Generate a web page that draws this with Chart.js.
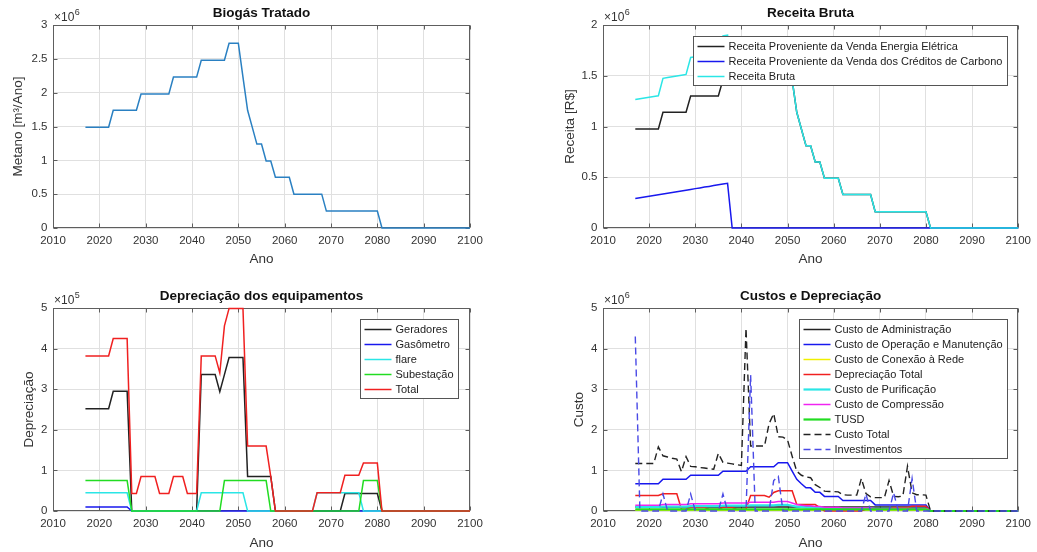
<!DOCTYPE html>
<html><head><meta charset="utf-8">
<script src="https://cdn.jsdelivr.net/npm/chart.js@4.4.1/dist/chart.umd.min.js"></script>
<style>
html,body{margin:0;padding:0;background:#fff;}
body{width:1037px;height:552px;position:relative;overflow:hidden;}
canvas{position:absolute;}
</style></head><body>
<canvas id="c1" width="518" height="276" style="left:0;top:0"></canvas>
<canvas id="c2" width="519" height="276" style="left:518px;top:0"></canvas>
<canvas id="c3" width="518" height="276" style="left:0;top:276px"></canvas>
<canvas id="c4" width="519" height="276" style="left:518px;top:276px"></canvas>
<script>
// ---------- DATA (values shown in the units of each axis: x10^6 or x10^5) ----------
const years = [2017,2018,2019,2020,2021,2022,2023,2024,2025,2026,2027,2028,2029,2030,2031,2032,2033,2034,2035,2036,
2037,2038,2039,2040,2041,2042,2043,2044,2045,2046,2047,2048,2049,2050,2051,2052,2053,2054,2055,2056,
2057,2058,2059,2060,2061,2062,2063,2064,2065,2066,2067,2068,2069,2070,2071,2072,2073,2074,2075,2076,
2077,2078,2079,2080,2081,2082,2083,2084,2085,2086,2087,2088,2089,2090,2091,2092,2093,2094,2095,2096,
2097,2098,2099,2100];

// Biogás Tratado (x10^6 m3/ano)
const biogas = [1.49,1.49,1.49,1.49,1.49,1.49,1.74,1.74,1.74,1.74,1.74,1.74,1.98,1.98,1.98,1.98,1.98,1.98,1.98,2.23,
2.23,2.23,2.23,2.23,2.23,2.48,2.48,2.48,2.48,2.48,2.48,2.73,2.73,2.73,2.23,1.74,1.49,1.24,1.24,0.99,
0.99,0.75,0.75,0.75,0.75,0.50,0.50,0.50,0.50,0.50,0.50,0.50,0.25,0.25,0.25,0.25,0.25,0.25,0.25,0.25,
0.25,0.25,0.25,0.25,0,0,0,0,0,0,0,0,0,0,0,0,0,0,0,0,
0,0,0,0];

// Receita Bruta (x10^6 R$)
const receitaEnergia = [0.975,0.975,0.975,0.975,0.975,0.975,1.14,1.14,1.14,1.14,1.14,1.14,1.30,1.30,1.30,1.30,1.30,1.30,1.30,1.46,
1.46,1.46,1.46,1.46,1.46,1.63,1.63,1.63,1.63,1.63,1.63,1.79,1.79,1.79,1.46,1.14,0.975,0.81,0.81,0.65,
0.65,0.49,0.49,0.49,0.49,0.33,0.33,0.33,0.33,0.33,0.33,0.33,0.16,0.16,0.16,0.16,0.16,0.16,0.16,0.16,
0.16,0.16,0.16,0.16,0,0,0,0,0,0,0,0,0,0,0,0,0,0,0,0,
0,0,0,0];
const receitaCarbono = [0.290,0.298,0.305,0.313,0.320,0.328,0.335,0.343,0.350,0.358,0.365,0.373,0.380,0.388,0.395,0.403,0.410,0.418,0.425,0.433,
0.440,0,0,0,0,0,0,0,0,0,0,0,0,0,0,0,0,0,0,0,
0,0,0,0,0,0,0,0,0,0,0,0,0,0,0,0,0,0,0,0,
0,0,0,0,0,0,0,0,0,0,0,0,0,0,0,0,0,0,0,0,
0,0,0,0];
const receitaBruta = [1.265,1.273,1.280,1.288,1.295,1.303,1.475,1.483,1.490,1.498,1.505,1.513,1.680,1.688,1.695,1.703,1.710,1.718,1.725,1.893,
1.900,1.46,1.46,1.46,1.46,1.63,1.63,1.63,1.63,1.63,1.63,1.79,1.79,1.79,1.46,1.14,0.975,0.81,0.81,0.65,
0.65,0.49,0.49,0.49,0.49,0.33,0.33,0.33,0.33,0.33,0.33,0.33,0.16,0.16,0.16,0.16,0.16,0.16,0.16,0.16,
0.16,0.16,0.16,0.16,0,0,0,0,0,0,0,0,0,0,0,0,0,0,0,0,
0,0,0,0];

// Depreciação dos equipamentos (x10^5)
const depGeradores = [2.52,2.52,2.52,2.52,2.52,2.52,2.95,2.95,2.95,2.95,0,0,0,0,0,0,0,0,0,0,
0,0,0,0,0,3.36,3.36,3.36,3.36,2.94,3.36,3.78,3.78,3.78,3.78,0.85,0.85,0.85,0.85,0.85,
0.85,0,0,0,0,0,0,0,0,0,0,0,0,0,0,0,0.43,0.43,0.43,0.43,
0.43,0.43,0.43,0.43,0,0,0,0,0,0,0,0,0,0,0,0,0,0,0,0,
0,0,0,0];
const depGasometro = [0.10,0.10,0.10,0.10,0.10,0.10,0.10,0.10,0.10,0.10,0,0,0,0,0,0,0,0,0,0,
0,0,0,0,0,0,0,0,0,0,0,0,0,0,0,0,0,0,0,0,
0,0,0,0,0,0,0,0,0,0,0,0,0,0,0,0,0,0,0,0,
0,0,0,0,0,0,0,0,0,0,0,0,0,0,0,0,0,0,0,0,
0,0,0,0];
const depFlare = [0.45,0.45,0.45,0.45,0.45,0.45,0.45,0.45,0.45,0.45,0,0,0,0,0,0,0,0,0,0,
0,0,0,0,0,0.45,0.45,0.45,0.45,0.45,0.45,0.45,0.45,0.45,0.45,0,0,0,0,0,
0,0,0,0,0,0,0,0,0,0,0.45,0.45,0.45,0.45,0.45,0.45,0.45,0.45,0.45,0.45,
0,0,0,0,0,0,0,0,0,0,0,0,0,0,0,0,0,0,0,0,
0,0,0,0];
const depSubestacao = [0.75,0.75,0.75,0.75,0.75,0.75,0.75,0.75,0.75,0.75,0,0,0,0,0,0,0,0,0,0,
0,0,0,0,0,0,0,0,0,0,0.75,0.75,0.75,0.75,0.75,0.75,0.75,0.75,0.75,0.75,
0,0,0,0,0,0,0,0,0,0,0,0,0,0,0,0,0,0,0,0,
0.75,0.75,0.75,0.75,0,0,0,0,0,0,0,0,0,0,0,0,0,0,0,0,
0,0,0,0];
const depTotal = [3.82,3.82,3.82,3.82,3.82,3.82,4.25,4.25,4.25,4.25,0.43,0.43,0.85,0.85,0.85,0.85,0.43,0.43,0.43,0.85,
0.85,0.85,0.43,0.43,0.43,3.82,3.82,3.82,3.82,3.40,4.56,4.99,4.99,4.99,4.99,1.60,1.60,1.60,1.60,1.60,
0.85,0,0,0,0,0,0,0,0,0,0.45,0.45,0.45,0.45,0.45,0.45,0.88,0.88,0.88,0.88,
1.18,1.18,1.18,1.18,0,0,0,0,0,0,0,0,0,0,0,0,0,0,0,0,
0,0,0,0];

// Custos e Depreciação (x10^6 R$)
const custoAdm = [0.10,0.10,0.10,0.10,0.10,0.10,0.10,0.10,0.10,0.10,0.10,0.10,0.10,0.10,0.10,0.10,0.10,0.10,0.10,0.10,
0.10,0.10,0.10,0.10,0.10,0.10,0.10,0.10,0.10,0.10,0.10,0.10,0.10,0.10,0.10,0.10,0.10,0.10,0.10,0.10,
0.10,0.10,0.10,0.10,0.10,0.10,0.10,0.10,0.10,0.10,0.10,0.10,0.10,0.10,0.10,0.10,0.10,0.10,0.10,0.10,
0.10,0.10,0.10,0.10,0,0,0,0,0,0,0,0,0,0,0,0,0,0,0,0,
0,0,0,0];
const custoOM = [0.67,0.67,0.67,0.67,0.67,0.67,0.78,0.78,0.78,0.78,0.78,0.78,0.88,0.88,0.88,0.88,0.88,0.88,0.88,0.98,
0.98,0.98,0.98,0.98,0.98,1.09,1.09,1.09,1.09,1.09,1.09,1.19,1.19,1.19,0.98,0.78,0.67,0.57,0.57,0.46,
0.46,0.36,0.36,0.36,0.36,0.26,0.26,0.26,0.26,0.26,0.26,0.26,0.15,0.15,0.15,0.15,0.15,0.15,0.15,0.15,
0.15,0.15,0.15,0.15,0,0,0,0,0,0,0,0,0,0,0,0,0,0,0,0,
0,0,0,0];
const custoConexao = [0.02,0.02,0.02,0.02,0.02,0.02,0.02,0.02,0.02,0.02,0.02,0.02,0.02,0.02,0.02,0.02,0.02,0.02,0.02,0.02,
0.02,0.02,0.02,0.02,0.02,0.02,0.02,0.02,0.02,0.02,0.02,0.02,0.02,0.02,0.02,0.02,0.02,0.02,0.02,0.02,
0.02,0.02,0.02,0.02,0.02,0.02,0.02,0.02,0.02,0.02,0.02,0.02,0.02,0.02,0.02,0.02,0.02,0.02,0.02,0.02,
0.02,0.02,0.02,0.02,0,0,0,0,0,0,0,0,0,0,0,0,0,0,0,0,
0,0,0,0];
const custoDepTotal = [0.382,0.382,0.382,0.382,0.382,0.382,0.425,0.425,0.425,0.425,0.043,0.043,0.085,0.085,0.085,0.085,0.043,0.043,0.043,0.085,
0.085,0.085,0.043,0.043,0.043,0.382,0.382,0.382,0.382,0.340,0.456,0.499,0.499,0.499,0.499,0.160,0.160,0.160,0.160,0.160,
0.085,0,0,0,0,0,0,0,0,0,0.045,0.045,0.045,0.045,0.045,0.045,0.088,0.088,0.088,0.088,
0.118,0.118,0.118,0.118,0,0,0,0,0,0,0,0,0,0,0,0,0,0,0,0,
0,0,0,0];
const custoPurificacao = [0.10,0.10,0.10,0.10,0.10,0.10,0.11,0.11,0.11,0.11,0.11,0.11,0.12,0.12,0.12,0.12,0.12,0.12,0.12,0.13,
0.13,0.13,0.13,0.13,0.13,0.14,0.14,0.14,0.14,0.14,0.14,0.15,0.15,0.15,0.13,0.11,0.10,0.09,0.09,0.08,
0.08,0.07,0.07,0.07,0.07,0.06,0.06,0.06,0.06,0.06,0.06,0.06,0.05,0.05,0.05,0.05,0.05,0.05,0.05,0.05,
0.05,0.05,0.05,0.05,0,0,0,0,0,0,0,0,0,0,0,0,0,0,0,0,
0,0,0,0];
const custoCompressao = [0.144,0.144,0.144,0.144,0.144,0.144,0.162,0.162,0.162,0.162,0.162,0.162,0.179,0.179,0.179,0.179,0.179,0.179,0.179,0.196,
0.196,0.196,0.196,0.196,0.196,0.214,0.214,0.214,0.214,0.214,0.214,0.231,0.231,0.231,0.196,0.162,0.144,0.127,0.127,0.109,
0.109,0.093,0.093,0.093,0.093,0.075,0.075,0.075,0.075,0.075,0.075,0.075,0.058,0.058,0.058,0.058,0.058,0.058,0.058,0.058,
0.058,0.058,0.058,0.058,0,0,0,0,0,0,0,0,0,0,0,0,0,0,0,0,
0,0,0,0];
const custoTUSD = [0.04,0.04,0.04,0.04,0.04,0.04,0.04,0.04,0.04,0.04,0.04,0.04,0.04,0.04,0.04,0.04,0.04,0.04,0.04,0.04,
0.04,0.04,0.04,0.04,0.04,0.04,0.04,0.04,0.04,0.04,0.04,0.04,0.04,0.04,0.04,0.04,0.04,0.04,0.04,0.04,
0.04,0.04,0.04,0.04,0.04,0.04,0.04,0.04,0.04,0.04,0.04,0.04,0.04,0.04,0.04,0.04,0.04,0.04,0.04,0.04,
0.04,0.04,0.04,0.04,0,0,0,0,0,0,0,0,0,0,0,0,0,0,0,0,
0,0,0,0];
const custoTotal = [1.17,1.17,1.17,1.17,1.17,1.58,1.36,1.33,1.30,1.28,0.97,1.34,1.10,1.09,1.07,1.06,1.04,1.03,1.42,1.20,
1.18,1.16,1.14,1.12,4.50,1.60,1.60,1.60,1.60,2.15,2.40,1.83,1.82,1.75,1.35,0.98,0.88,0.84,0.82,0.65,
0.58,0.49,0.48,0.48,0.47,0.40,0.39,0.39,0.39,0.80,0.43,0.35,0.33,0.33,0.33,0.75,0.36,0.35,0.37,1.10,
0.45,0.40,0.40,0.39,0,0,0,0,0,0,0,0,0,0,0,0,0,0,0,0,
0,0,0,0];
const investimentos = [4.30,0,0,0,0,0,0.42,0,0,0,0,0,0.42,0,0,0,0,0,0,0.42,
0,0,0,0,0,3.35,0,0,0,0,0.75,0.85,0,0,0,0,0,0,0,0,
0,0,0,0,0,0,0,0,0,0,0.42,0,0,0,0,0,0.45,0,0,0,
0.80,0,0,0,0,0,0,0,0,0,0,0,0,0,0,0,0,0,0,0,
0,0,0,0];

// ---------- STYLE ----------
const FONT = '"Liberation Sans", Arial, Helvetica, sans-serif';
const TICK = '#333333', GRID = '#e0e0e0', FRAME = '#5e5e5e';
const C = {k:'#222222', b:'#1818ee', c:'#2ae6e6', g:'#22dc22', r:'#f02020', m:'#f024f0', y:'#f0f000', mat:'#2a80c2', bd:'#4a4ae6'};
Chart.defaults.font.family = FONT;

function pts(arr){ return years.map((x,i)=>({x:x, y:arr[i]})); }
function ds(label, arr, color, width, dash){
  return {label, data: pts(arr), borderColor: color, backgroundColor: color, borderWidth: width||1.5,
          borderDash: dash||[], pointRadius: 0, tension: 0, fill: false, clip: false};
}

function matlabLook(cfg){
  return {
    id: 'matlabLook',
    beforeDatasetsDraw(chart){
      const {ctx, chartArea:a, scales} = chart;
      ctx.save();
      ctx.strokeStyle = FRAME; ctx.lineWidth = 1; ctx.setLineDash([]);
      const l = Math.round(a.left)+0.5, r = Math.round(a.right)-0.5, t = Math.round(a.top)+0.5, b = Math.round(a.bottom)-0.5;
      ctx.strokeRect(l, t, r-l, b-t);
      ctx.beginPath();
      scales.x.ticks.forEach(tk=>{ const p = Math.round(scales.x.getPixelForValue(tk.value))+0.5;
        ctx.moveTo(p,b); ctx.lineTo(p,b-4); ctx.moveTo(p,t); ctx.lineTo(p,t+4); });
      scales.y.ticks.forEach(tk=>{ const p = Math.round(scales.y.getPixelForValue(tk.value))+0.5;
        ctx.moveTo(l,p); ctx.lineTo(l+4,p); ctx.moveTo(r,p); ctx.lineTo(r-4,p); });
      ctx.stroke();
      ctx.restore();
    },
    afterDatasetsDraw(chart){
      const {ctx, chartArea:a} = chart;
      ctx.save();
      // exponent label
      ctx.fillStyle = TICK; ctx.textAlign = 'left'; ctx.textBaseline = 'middle';
      ctx.font = '12px ' + FONT;
      const ex = a.left + 1, ey = a.top - 7;
      ctx.fillText('\u00d710', ex, ey);
      const w1 = ctx.measureText('\u00d710').width;
      ctx.font = '9px ' + FONT;
      ctx.fillText(cfg.exp, ex + w1 + 0.5, ey - 5.5);
      // legend
      if (cfg.legend){
        const items = chart.data.datasets;
        ctx.font = '11px ' + FONT;
        const tw = Math.max(...items.map(d=>ctx.measureText(d.label).width));
        const w = Math.round(35 + tw + 5), h = items.length*15 + 4;
        const x0 = Math.round(a.right - cfg.legend.right - w)+0.5, y0 = Math.round(a.top + cfg.legend.top)+0.5;
        ctx.fillStyle = '#ffffff'; ctx.fillRect(x0, y0, w, h);
        ctx.strokeStyle = '#555555'; ctx.lineWidth = 1; ctx.setLineDash([]); ctx.strokeRect(x0, y0, w, h);
        items.forEach((d,i)=>{
          const yy = y0 + 10 + i*15;
          ctx.beginPath(); ctx.setLineDash(d.borderDash||[]);
          ctx.strokeStyle = d.borderColor; ctx.lineWidth = d.borderWidth;
          ctx.moveTo(x0+4, yy); ctx.lineTo(x0+31, yy); ctx.stroke();
          ctx.setLineDash([]);
          ctx.fillStyle = '#222222'; ctx.textAlign = 'left'; ctx.textBaseline = 'middle';
          ctx.fillText(d.label, x0+35, yy);
        });
      }
      ctx.restore();
    }
  };
}

function makeChart(id, geo, datasets, yMax, yStep, yTitle, title, cfg){
  datasets.forEach((d,i)=>{ d.order = datasets.length - i; });
  return new Chart(document.getElementById(id), {
    type: 'line',
    data: { datasets },
    options: {
      responsive: false, animation: false, devicePixelRatio: 1,
      layout: { padding: { left: 0, top: 0, bottom: 0, right: geo.cx + geo.cw - geo.R } },
      plugins: {
        legend: { display: false }, tooltip: { enabled: false },
        title: { display: true, text: title, fullSize: false, color: '#111111',
                 font: { size: 13.5, weight: 'bold', family: FONT },
                 padding: { top: geo.titleY - geo.cy - 8.1, bottom: geo.T - geo.titleY - 8.1 } }
      },
      scales: {
        x: { type: 'linear', min: 2010, max: 2100,
             ticks: { stepSize: 10, padding: 6, color: TICK, font: { size: 11.5 }, maxRotation: 0, autoSkip: false,
                      callback: v => String(v) },
             grid: { color: GRID, drawTicks: false }, border: { display: false },
             title: { display: true, text: 'Ano', color: TICK, font: { size: 13.5 },
                      padding: { top: 0, bottom: geo.cy + geo.ch - geo.xTitleY - 8.1 } },
             afterFit: s => { s.height = geo.cy + geo.ch - geo.B; } },
        y: { type: 'linear', min: 0, max: yMax,
             ticks: { stepSize: yStep, padding: 5.5, color: TICK, font: { size: 11.5 },
                      callback: v => String(Math.round(v*100)/100) },
             grid: { color: GRID, drawTicks: false }, border: { display: false },
             title: { display: true, text: yTitle, color: TICK, font: { size: 13.5 },
                      padding: { top: geo.yTitleX - geo.cx - 8.1, bottom: 0 } },
             afterFit: s => { s.width = geo.L - geo.cx; } }
      }
    },
    plugins: [matlabLook(cfg)]
  });
}

// Biogás Tratado
makeChart('c1', {cx:0, cy:0, cw:518, ch:276, L:53, T:25, R:470, B:228, titleY:13, xTitleY:259.3, yTitleX:18.3},
  [ds('Biogás Tratado', biogas, C.mat)], 3, 0.5, 'Metano [m\u00b3/Ano]', 'Biogás Tratado', {exp:'6'});

// Receita Bruta
makeChart('c2', {cx:518, cy:0, cw:519, ch:276, L:603, T:25, R:1020, B:228, titleY:13, xTitleY:259.3, yTitleX:570},
  [ds('Receita Proveniente da Venda Energia Elétrica', receitaEnergia, C.k),
   ds('Receita Proveniente da Venda dos Créditos de Carbono', receitaCarbono, C.b),
   ds('Receita Bruta', receitaBruta, C.c)],
  2, 0.5, 'Receita [R$]', 'Receita Bruta', {exp:'6', legend:{right:11, top:11}});

// Depreciação dos equipamentos
makeChart('c3', {cx:0, cy:276, cw:518, ch:276, L:53, T:308, R:470, B:511, titleY:296, xTitleY:543.3, yTitleX:29.3},
  [ds('Geradores', depGeradores, C.k),
   ds('Gasômetro', depGasometro, C.b),
   ds('flare', depFlare, C.c),
   ds('Subestação', depSubestacao, C.g),
   ds('Total', depTotal, C.r)],
  5, 1, 'Depreciação', 'Depreciação dos equipamentos', {exp:'5', legend:{right:12, top:10.7}});

// Custos e Depreciação
makeChart('c4', {cx:518, cy:276, cw:519, ch:276, L:603, T:308, R:1020, B:511, titleY:296, xTitleY:543.3, yTitleX:579.3},
  [ds('Custo de Administração', custoAdm, C.k),
   ds('Custo de Operação e Manutenção', custoOM, C.b),
   ds('Custo de Conexão à Rede', custoConexao, C.y),
   ds('Depreciação Total', custoDepTotal, C.r),
   ds('Custo de Purificação', custoPurificacao, C.c, 2.2),
   ds('Custo de Compressão', custoCompressao, C.m),
   ds('TUSD', custoTUSD, C.g, 2.2),
   ds('Custo Total', custoTotal, C.k, 1.4, [7,4]),
   ds('Investimentos', investimentos, C.bd, 1.4, [7,4])],
  5, 1, 'Custo', 'Custos e Depreciação', {exp:'6', legend:{right:11, top:11}});
</script>
</body></html>
